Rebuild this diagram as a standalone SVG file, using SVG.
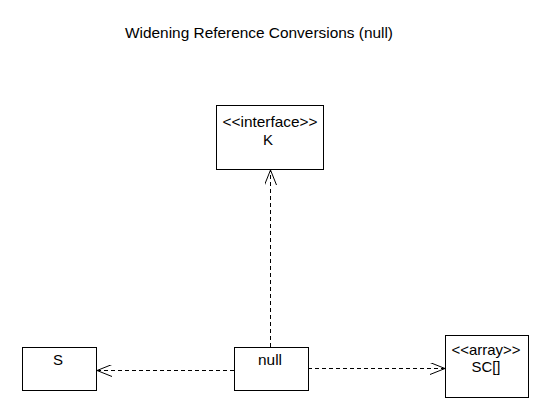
<svg xmlns="http://www.w3.org/2000/svg" width="555" height="410" viewBox="0 0 555 410">
<defs>
<marker id="open" viewBox="0 0 16 12" refX="15" refY="6" markerWidth="16" markerHeight="12" markerUnits="userSpaceOnUse" orient="auto">
<path d="M0,0 L15,6 L0,12" fill="none" stroke="#000" stroke-width="1"/>
</marker>
<style>
.box{fill:#fff;stroke:#000;stroke-width:1}
.t{font-family:"Liberation Sans",Arial,sans-serif;font-size:15px;fill:#000;text-anchor:middle}
.title{font-family:"Liberation Sans",Arial,sans-serif;font-size:15.5px;fill:#000;text-anchor:middle}
.dash{fill:none;stroke:#000;stroke-width:1;stroke-dasharray:4,3}
</style>
</defs>
<rect width="555" height="410" fill="#fff"/>
<text class="title" x="259" y="38" textLength="268" lengthAdjust="spacingAndGlyphs">Widening Reference Conversions (null)</text>
<g id="connectors">
<path class="dash" d="M270.5,347 L270.5,170" marker-end="url(#open)"/>
<path class="dash" d="M234,370.5 L97,370.5" marker-end="url(#open)"/>
<path class="dash" d="M308,368.5 L445,368.5" marker-end="url(#open)"/>
</g>
<g id="K">
<rect class="box" x="216.5" y="105.5" width="107" height="64"/>
<text class="t" x="270" y="127" textLength="95" lengthAdjust="spacingAndGlyphs">&lt;&lt;interface&gt;&gt;</text>
<text class="t" x="268" y="145">K</text>
</g>
<g id="S">
<rect class="box" x="22.5" y="347.5" width="74" height="43"/>
<text class="t" x="58" y="365">S</text>
</g>
<g id="null">
<rect class="box" x="234.5" y="347.5" width="74" height="43"/>
<text class="t" x="270" y="365" textLength="24" lengthAdjust="spacingAndGlyphs">null</text>
</g>
<g id="SC">
<rect class="box" x="445.5" y="335.5" width="83" height="62"/>
<text class="t" x="486" y="355" textLength="69" lengthAdjust="spacingAndGlyphs">&lt;&lt;array&gt;&gt;</text>
<text class="t" x="486" y="372" textLength="29" lengthAdjust="spacingAndGlyphs">SC[]</text>
</g>
</svg>
